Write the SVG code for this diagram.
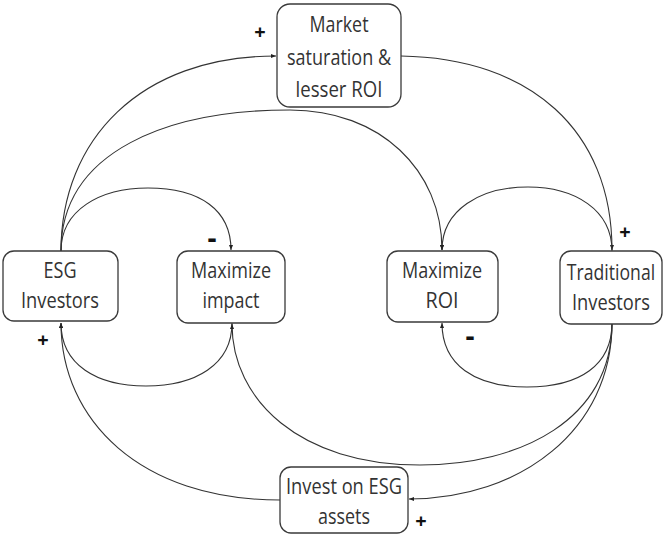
<svg xmlns="http://www.w3.org/2000/svg" width="663" height="535" viewBox="0 0 663 535">
<style>
.box{fill:#fff;stroke:#3a3a3a;stroke-width:1.3}
.t{font-family:"Open Sans","DejaVu Sans",sans-serif;font-size:21px;fill:#333;text-anchor:middle}
.c{fill:none;stroke:#333;stroke-width:1.1}
.s{font-family:"Open Sans","DejaVu Sans",sans-serif;font-weight:bold;fill:#111;text-anchor:middle}
</style>
<defs>
<marker id="ah" viewBox="0 0 10 10" refX="10" refY="5" markerWidth="5" markerHeight="5" orient="auto" markerUnits="userSpaceOnUse">
<path d="M0,1 L10,5 L0,9 z" fill="#222"/>
</marker>
</defs>
<g id="connectors">
<path class="c" d="M61,251 C61,140 140,56 276,56" marker-end="url(#ah)"/>
<path class="c" d="M401,56 C530,58 612,130 612,250" marker-end="url(#ah)"/>
<path class="c" d="M61,251 C61,150 170,110 290,110 C380,110 442,170 442,250" marker-end="url(#ah)"/>
<path class="c" d="M61,251 C61,210 100,188 148,188 C200,188 231,210 231,250" marker-end="url(#ah)"/>
<path class="c" d="M612,251 C612,210 575,187 528,187 C480,187 442,210 442,250" marker-end="url(#ah)"/>
<path class="c" d="M232,323 C232,365 195,386 146,386 C97,386 61,365 61,323" marker-end="url(#ah)"/>
<path class="c" d="M612,323 C612,420 520,465 420,465 C300,465 232,400 232,324" marker-end="url(#ah)"/>
<path class="c" d="M612,323 C612,365 580,387 527,387 C475,387 442,365 442,323" marker-end="url(#ah)"/>
<path class="c" d="M612,323 C612,430 520,499 409,499" marker-end="url(#ah)"/>
<path class="c" d="M280,500 C140,500 61,420 61,323" marker-end="url(#ah)"/>
</g>
<g id="market">
<rect class="box" x="277" y="4" width="124" height="103" rx="13"/>
<text class="t" x="339" y="32" textLength="59" lengthAdjust="spacingAndGlyphs">Market</text>
<text class="t" x="339" y="65" textLength="104" lengthAdjust="spacingAndGlyphs">saturation &amp;</text>
<text class="t" x="339" y="97" textLength="87" lengthAdjust="spacingAndGlyphs">lesser ROI</text>
</g>
<g id="esg">
<rect class="box" x="3" y="251" width="115" height="70" rx="11"/>
<text class="t" x="60" y="278" textLength="33" lengthAdjust="spacingAndGlyphs">ESG</text>
<text class="t" x="60" y="308" textLength="78" lengthAdjust="spacingAndGlyphs">Investors</text>
</g>
<g id="impact">
<rect class="box" x="177" y="251" width="108" height="72" rx="11"/>
<text class="t" x="231" y="278" textLength="80" lengthAdjust="spacingAndGlyphs">Maximize</text>
<text class="t" x="231" y="308" textLength="57" lengthAdjust="spacingAndGlyphs">impact</text>
</g>
<g id="roi">
<rect class="box" x="387" y="251" width="111" height="71" rx="11"/>
<text class="t" x="442" y="278" textLength="80" lengthAdjust="spacingAndGlyphs">Maximize</text>
<text class="t" x="442" y="308" textLength="33" lengthAdjust="spacingAndGlyphs">ROI</text>
</g>
<g id="traditional">
<rect class="box" x="560" y="251" width="102" height="73" rx="11"/>
<text class="t" transform="translate(611,280) scale(0.84,1)" x="0" y="0">Traditional</text>
<text class="t" x="611" y="310" textLength="78" lengthAdjust="spacingAndGlyphs">Investors</text>
</g>
<g id="invest">
<rect class="box" x="280" y="467" width="128" height="66" rx="11"/>
<text class="t" x="344" y="494" textLength="116" lengthAdjust="spacingAndGlyphs">Invest on ESG</text>
<text class="t" x="344" y="524" textLength="52" lengthAdjust="spacingAndGlyphs">assets</text>
</g>
<g id="signs">
<text class="s" x="260" y="39" font-size="20">+</text>
<text class="s" x="212" y="248" font-size="28">-</text>
<text class="s" x="625" y="239" font-size="20">+</text>
<text class="s" x="43" y="347" font-size="20">+</text>
<text class="s" x="470" y="346" font-size="28">-</text>
<text class="s" x="421" y="528" font-size="20">+</text>
</g>
</svg>
